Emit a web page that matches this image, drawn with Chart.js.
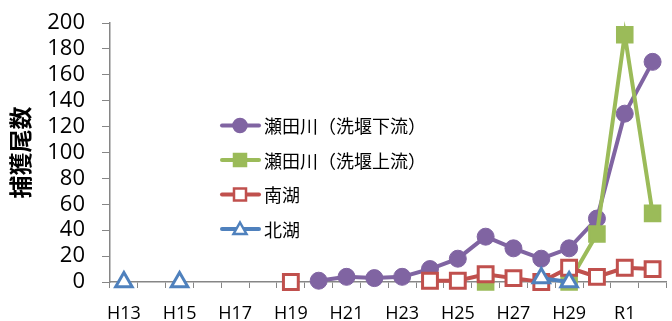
<!DOCTYPE html>
<html><head><meta charset="utf-8">
<script src="https://cdn.jsdelivr.net/npm/chart.js@4/dist/chart.umd.min.js"></script>
<style>
html,body{margin:0;padding:0;background:#fff;overflow:hidden;}
#wrap{position:relative;width:680px;height:321px;}
</style></head>
<body>
<div id="wrap"><canvas id="c"></canvas></div>
<script>
const categories = ['H13','H14','H15','H16','H17','H18','H19','H20','H21','H22','H23','H24','H25','H26','H27','H28','H29','H30','R1','R2'];
const setaDownstream = [null,null,null,null,null,null,null,1,4,3,4,10,18,35,26,18,26,49,130,170];
const setaUpstream   = [null,null,null,null,null,null,null,null,null,null,null,null,null,0,null,null,0,37,191,53];
const southLake      = [null,null,null,null,null,null,0,null,null,null,null,1,1,6,3,0,11,4,11,10];
const northLake      = [0,null,0,null,null,null,null,null,null,null,null,null,null,null,null,3,0,null,null,null];
const seriesNames = ['瀬田川（洗堰下流）','瀬田川（洗堰上流）','南湖','北湖'];
const yTicks = [0,20,40,60,80,100,120,140,160,180,200];
const yTitle = '捕獲尾数';

const PURPLE='#8064A2', GREEN='#9BBB59', RED='#C0504D', BLUE='#4F81BD', GRAY='#868686';
Chart.defaults.font.family = "'Open Sans','Noto Sans CJK JP',sans-serif";
Chart.defaults.color = '#000';

const legendPlugin = {
  id:'customLegend',
  afterDraw(chart){
    const ctx = chart.ctx;
    const items = [
      {c:PURPLE, s:'circle', fill:PURPLE},
      {c:GREEN, s:'square', fill:GREEN},
      {c:RED, s:'square', fill:'#fff'},
      {c:BLUE, s:'triangle', fill:'#fff'}
    ];
    const ys=[125.5,160,194.5,229];
    ctx.save();
    items.forEach((it,i)=>{
      const y=ys[i];
      ctx.strokeStyle=it.c; ctx.lineWidth=4; ctx.lineCap='round';
      ctx.beginPath(); ctx.moveTo(222,y); ctx.lineTo(259,y); ctx.stroke();
      ctx.lineCap='butt';
      ctx.fillStyle=it.fill; ctx.lineWidth=2.5;
      ctx.beginPath();
      if(it.s==='circle'){ ctx.arc(240,y,6.5,0,Math.PI*2); }
      else if(it.s==='square'){ ctx.rect(234,y-6,12,12); }
      else { ctx.moveTo(240,y-6.5); ctx.lineTo(246.5,y+5); ctx.lineTo(233.5,y+5); ctx.closePath(); }
      ctx.fill(); ctx.stroke();
      ctx.fillStyle='#000';
      ctx.font="18px 'Noto Sans CJK JP'";
      ctx.textBaseline='middle'; ctx.textAlign='left';
      ctx.fillText(seriesNames[i],264,y+1);
    });
    ctx.restore();
  }
};

new Chart(document.getElementById('c'),{
  type:'line',
  data:{
    labels:categories,
    datasets:[
      {label:seriesNames[0],data:setaDownstream,borderColor:PURPLE,backgroundColor:PURPLE,borderWidth:4,pointStyle:'circle',pointRadius:8.5,pointBorderWidth:1,pointBackgroundColor:PURPLE,pointBorderColor:PURPLE,order:4,clip:false},
      {label:seriesNames[1],data:setaUpstream,borderColor:GREEN,backgroundColor:GREEN,borderWidth:4,pointStyle:'rect',pointRadius:11,pointBorderWidth:2,pointBackgroundColor:GREEN,pointBorderColor:GREEN,order:3,clip:false},
      {label:seriesNames[2],data:southLake,borderColor:RED,backgroundColor:'#fff',borderWidth:4,pointStyle:'rect',pointRadius:10.5,pointBorderWidth:3,pointBackgroundColor:'#fff',pointBorderColor:RED,order:2,clip:false},
      {label:seriesNames[3],data:northLake,borderColor:BLUE,backgroundColor:'#fff',borderWidth:4,pointStyle:'triangle',pointRadius:9.5,pointBorderWidth:3,pointBackgroundColor:'#fff',pointBorderColor:BLUE,order:1,clip:false}
    ]
  },
  options:{
    responsive:true,maintainAspectRatio:false,animation:false,
    layout:{padding:{left:0,top:23,right:4,bottom:0}},
    plugins:{legend:{display:false},tooltip:{enabled:false}},
    elements:{line:{tension:0}},
    scales:{
      x:{
        offset:true,
        grid:{offset:true,drawOnChartArea:false,drawTicks:true,tickLength:6,color:GRAY,tickColor:GRAY},
        border:{color:GRAY,width:1.5},
        ticks:{autoSkip:false,maxRotation:0,padding:15,font:{size:18},color:'#000',
          callback:function(v,i){return i%2===0?categories[i]:'';}},
        afterFit(s){s.height=39;s.paddingLeft=0;s.paddingRight=0;}
      },
      y:{
        min:0,max:200,
        afterBuildTicks(s){s.ticks=yTicks.map(v=>({value:v}));},
        grid:{drawOnChartArea:false,drawTicks:true,tickLength:8,color:GRAY,tickColor:GRAY},
        border:{color:GRAY,width:1.5},
        ticks:{autoSkip:false,padding:17,font:{size:22},color:'#000'},
        title:{display:true,text:yTitle,font:{size:23,weight:'bold',family:"'Noto Sans CJK JP'"},color:'#000',padding:{top:6,bottom:0}},
        afterFit(s){s.width=110;s.paddingTop=0;s.paddingBottom=0;}
      }
    }
  },
  plugins:[legendPlugin]
});
</script>
</body></html>
